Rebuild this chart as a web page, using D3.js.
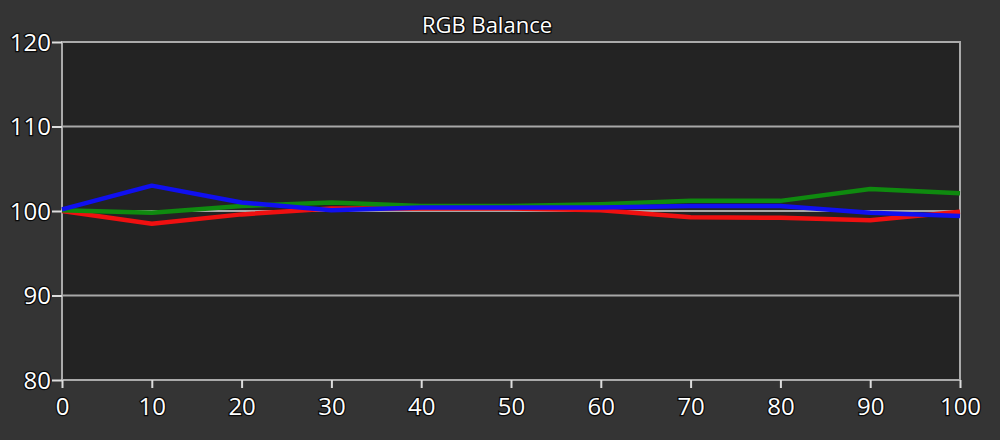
<!DOCTYPE html>
<html><head><meta charset="utf-8">
<script src="https://cdn.jsdelivr.net/npm/d3@7"></script>
<style>
html,body{margin:0;padding:0;background:#343434;}
svg{display:block;}
text{font-family:"Open Sans","DejaVu Sans",sans-serif;fill:#fff;}
</style></head><body>
<svg id="c" width="1000" height="440"></svg>
<script>
const xTicks = [0,10,20,30,40,50,60,70,80,90,100];
const yTicks = [80,90,100,110,120];
const levels = [0,10,20,30,40,50,60,70,80,90,100];
const redValues   = [100.0, 98.5, 99.6, 100.3, 100.3, 100.3, 100.1, 99.25, 99.2, 98.9, 99.9];
const greenValues = [100.1, 99.8, 100.6, 101.0, 100.6, 100.6, 100.8, 101.2, 101.2, 102.6, 102.1];
const blueValues  = [100.2, 103.0, 101.0, 100.1, 100.4, 100.4, 100.4, 100.6, 100.6, 99.8, 99.4];
const title = "RGB Balance";

const svg = d3.select("#c");
const L = 62, R = 960, T = 42, B = 380;
const x = d3.scaleLinear().domain([0,100]).range([L,R]);
const y = d3.scaleLinear().domain([80,120]).range([B,T]);

svg.append("rect").attr("x",L).attr("y",T).attr("width",R-L).attr("height",B-T).attr("fill","#232323");

// gridlines
svg.append("g").selectAll("line").data(yTicks.filter(d=>d>80&&d<120)).join("line")
  .attr("x1",L).attr("x2",R).attr("y1",d=>y(d)).attr("y2",d=>y(d))
  .attr("stroke","#a8a8a8").attr("stroke-width",2);

// frame
svg.append("rect").attr("x",L).attr("y",T).attr("width",R-L).attr("height",B-T)
  .attr("fill","none").attr("stroke","#aaaaaa").attr("stroke-width",2);

// axes
const yAxis = d3.axisLeft(y).tickValues(yTicks).tickSize(10).tickPadding(1);
const gy = svg.append("g").attr("transform",`translate(${L},0)`).call(yAxis);
const xAxis = d3.axisBottom(x).tickValues(xTicks).tickSize(8).tickPadding(10);
const gx = svg.append("g").attr("transform",`translate(0,${B})`).call(xAxis);
[gx,gy].forEach(g=>{
  g.select(".domain").remove();
  g.selectAll(".tick line").attr("stroke","#dddddd").attr("stroke-width",2);
  g.selectAll(".tick text").attr("font-size",24).attr("fill","#fff")
    .attr("font-family","'Open Sans','DejaVu Sans',sans-serif")
    .attr("stroke","#0a0a0a").attr("stroke-width",2.5).attr("paint-order","stroke");
});
gy.selectAll(".tick text").attr("dy","0.35em");

const line = d3.line().x((d,i)=>x(levels[i])).y(d=>y(d));
const series = [
  {vals:redValues, color:"#f01010"},
  {vals:greenValues, color:"#0f8a0f"},
  {vals:blueValues, color:"#1010f0"}
];
series.forEach(s=>{
  svg.append("path").datum(s.vals).attr("d",line).attr("fill","none")
    .attr("stroke",s.color).attr("stroke-width",4.5).attr("stroke-linejoin","round");
});

svg.append("text").attr("x",487).attr("y",33).attr("text-anchor","middle")
  .attr("font-size",22).attr("stroke","#0a0a0a").attr("stroke-width",2.5).attr("paint-order","stroke")
  .text(title);
</script>
</body></html>
